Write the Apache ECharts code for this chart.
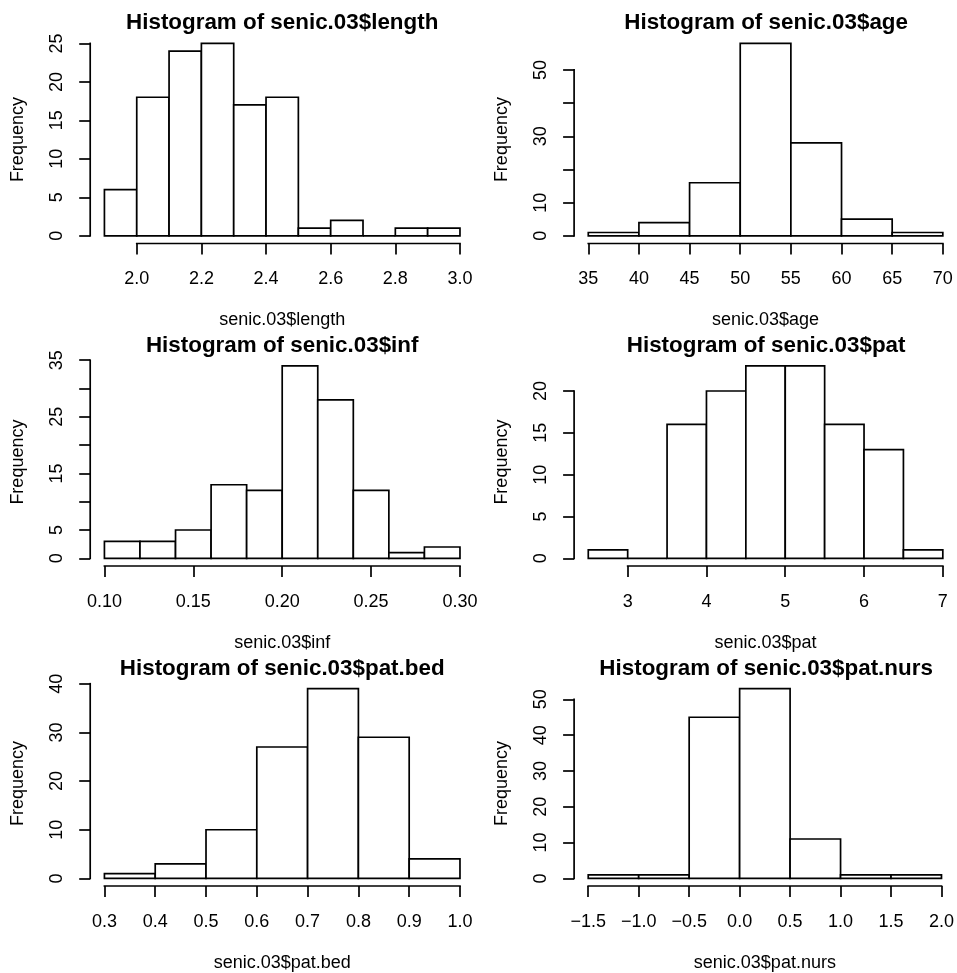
<!DOCTYPE html>
<html><head><meta charset="utf-8">
<script src="https://cdn.jsdelivr.net/npm/echarts@6/dist/echarts.min.js"></script>
<style>html,body{margin:0;padding:0;background:#fff}#c{width:957px;height:973px}</style>
</head><body><div id="c"></div>
<script>
// ---- data ----
const lengthBreaks = [1.9, 2.0, 2.1, 2.2, 2.3, 2.4, 2.5, 2.6, 2.7, 2.8, 2.9, 3.0];
const lengthCounts = [6, 18, 24, 25, 17, 18, 1, 2, 0, 1, 1];
const lengthXTicks = [2.0, 2.2, 2.4, 2.6, 2.8, 3.0];
const lengthXLabels = ['2.0', '2.2', '2.4', '2.6', '2.8', '3.0'];
const lengthYTicks = [0, 5, 10, 15, 20, 25];
const lengthYLabels = [0, 5, 10, 15, 20, 25];

const ageBreaks = [35, 40, 45, 50, 55, 60, 65, 70];
const ageCounts = [1, 4, 16, 58, 28, 5, 1];
const ageXTicks = [35, 40, 45, 50, 55, 60, 65, 70];
const ageXLabels = ['35', '40', '45', '50', '55', '60', '65', '70'];
const ageYTicks = [0, 10, 20, 30, 40, 50];
const ageYLabels = [0, 10, 30, 50];

const infBreaks = [0.10, 0.12, 0.14, 0.16, 0.18, 0.20, 0.22, 0.24, 0.26, 0.28, 0.30];
const infCounts = [3, 3, 5, 13, 12, 34, 28, 12, 1, 2];
const infXTicks = [0.10, 0.15, 0.20, 0.25, 0.30];
const infXLabels = ['0.10', '0.15', '0.20', '0.25', '0.30'];
const infYTicks = [0, 5, 10, 15, 20, 25, 30, 35];
const infYLabels = [0, 5, 15, 25, 35];

const patBreaks = [2.5, 3.0, 3.5, 4.0, 4.5, 5.0, 5.5, 6.0, 6.5, 7.0];
const patCounts = [1, 0, 16, 20, 23, 23, 16, 13, 1];
const patXTicks = [3, 4, 5, 6, 7];
const patXLabels = ['3', '4', '5', '6', '7'];
const patYTicks = [0, 5, 10, 15, 20];
const patYLabels = [0, 5, 10, 15, 20];

const bedBreaks = [0.3, 0.4, 0.5, 0.6, 0.7, 0.8, 0.9, 1.0];
const bedCounts = [1, 3, 10, 27, 39, 29, 4];
const bedXTicks = [0.3, 0.4, 0.5, 0.6, 0.7, 0.8, 0.9, 1.0];
const bedXLabels = ['0.3', '0.4', '0.5', '0.6', '0.7', '0.8', '0.9', '1.0'];
const bedYTicks = [0, 10, 20, 30, 40];
const bedYLabels = [0, 10, 20, 30, 40];

const nursBreaks = [-1.5, -1.0, -0.5, 0.0, 0.5, 1.0, 1.5, 2.0];
const nursCounts = [1, 1, 45, 53, 11, 1, 1];
const nursXTicks = [-1.5, -1.0, -0.5, 0.0, 0.5, 1.0, 1.5, 2.0];
const nursXLabels = ['\u22121.5', '\u22121.0', '\u22120.5', '0.0', '0.5', '1.0', '1.5', '2.0'];
const nursYTicks = [0, 10, 20, 30, 40, 50];
const nursYLabels = [0, 10, 20, 30, 40, 50];

const panels = [
  { v: 'senic.03$length', b: lengthBreaks, c: lengthCounts, xt: lengthXTicks, xl: lengthXLabels, yt: lengthYTicks, yl: lengthYLabels },
  { v: 'senic.03$age', b: ageBreaks, c: ageCounts, xt: ageXTicks, xl: ageXLabels, yt: ageYTicks, yl: ageYLabels },
  { v: 'senic.03$inf', b: infBreaks, c: infCounts, xt: infXTicks, xl: infXLabels, yt: infYTicks, yl: infYLabels },
  { v: 'senic.03$pat', b: patBreaks, c: patCounts, xt: patXTicks, xl: patXLabels, yt: patYTicks, yl: patYLabels },
  { v: 'senic.03$pat.bed', b: bedBreaks, c: bedCounts, xt: bedXTicks, xl: bedXLabels, yt: bedYTicks, yl: bedYLabels },
  { v: 'senic.03$pat.nurs', b: nursBreaks, c: nursCounts, xt: nursXTicks, xl: nursXLabels, yt: nursYTicks, yl: nursYLabels }
];

// ---- layout / style ----
const FONT = "'Liberation Sans', Arial, Helvetica, sans-serif";
const LW = 1.7;
const lefts = [90.2, 574.1];
const tops = [35.7, 358.2, 681.0];
const GW = 384, GH = 207.8;

const grids = [], xAxes = [], yAxes = [], series = [], titles = [];

panels.forEach((p, i) => {
  const col = i % 2, row = Math.floor(i / 2);
  const left = lefts[col], top = tops[row];
  grids.push({ left: left, top: top, width: GW, height: GH });

  const lo = p.b[0], hi = p.b[p.b.length - 1];
  const ext = (hi - lo) * 0.04;
  const ymax = Math.max.apply(null, p.c);
  const xMin = lo - ext, xMax = hi + ext;
  const yMin = -0.04 * ymax, yMax = 1.04 * ymax;

  titles.push({
    text: 'Histogram of ' + p.v,
    left: left + GW / 2, top: top - 23.5, textAlign: 'center', padding: 0,
    textStyle: { fontFamily: FONT, fontSize: 22.4, fontWeight: 'bold', color: '#000' }
  });

  const xl = p.xl;
  const xt = p.xt;
  xAxes.push({
    type: 'value', gridIndex: i, min: xMin, max: xMax,
    name: p.v, nameLocation: 'middle', nameGap: 68,
    nameTextStyle: { fontFamily: FONT, fontSize: 18, color: '#000' },
    axisLine: { show: false, onZero: false },
    axisTick: { show: true, customValues: xt, length: 11, inside: false, lineStyle: { color: '#000', width: LW } },
    axisLabel: {
      show: true, customValues: xt, margin: 27, fontFamily: FONT, fontSize: 18, color: '#000',
      formatter: function (val) {
        let k = 0, best = Infinity;
        xt.forEach((t, j) => { const d = Math.abs(t - val); if (d < best) { best = d; k = j; } });
        return xl[k];
      }
    },
    splitLine: { show: false }
  });
  yAxes.push({
    type: 'value', gridIndex: i, min: yMin, max: yMax,
    name: 'Frequency', nameLocation: 'middle', nameGap: 63,
    nameTextStyle: { fontFamily: FONT, fontSize: 18, color: '#000' },
    axisLine: { show: false, onZero: false },
    axisTick: { show: true, customValues: p.yt, length: 11, inside: false, lineStyle: { color: '#000', width: LW } },
    axisLabel: { show: true, customValues: p.yl, rotate: 90, margin: 24, fontFamily: FONT, fontSize: 18, color: '#000' },
    splitLine: { show: false }
  });

  const bins = p.c.map((cnt, j) => [p.b[j], p.b[j + 1], cnt]);
  series.push({
    type: 'custom', xAxisIndex: i, yAxisIndex: i, data: bins, silent: true, animation: false,
    renderItem: function (params, api) {
      const a = api.coord([api.value(0), 0]);
      const b = api.coord([api.value(1), api.value(2)]);
      return {
        type: 'rect',
        shape: { x: a[0], y: b[1], width: b[0] - a[0], height: a[1] - b[1] },
        style: { fill: '#fff', stroke: '#000', lineWidth: LW }
      };
    }
  });
  // R style axis lines running from first to last tick
  series.push({
    type: 'custom', xAxisIndex: i, yAxisIndex: i, silent: true, animation: false,
    data: [[xt[0], xt[xt.length - 1], p.yt[0], p.yt[p.yt.length - 1]]],
    renderItem: function (params, api) {
      const x0 = api.coord([api.value(0), yMin]);
      const x1 = api.coord([api.value(1), yMin]);
      const y0 = api.coord([xMin, api.value(2)]);
      const y1 = api.coord([xMin, api.value(3)]);
      return {
        type: 'group',
        children: [
          { type: 'line', shape: { x1: x0[0], y1: x0[1], x2: x1[0], y2: x1[1] }, style: { stroke: '#000', lineWidth: LW, lineCap: 'square' } },
          { type: 'line', shape: { x1: y0[0], y1: y0[1], x2: y1[0], y2: y1[1] }, style: { stroke: '#000', lineWidth: LW, lineCap: 'square' } }
        ]
      };
    }
  });
});

const chart = echarts.init(document.getElementById('c'), null, { renderer: 'canvas' });
chart.setOption({
  backgroundColor: '#fff',
  animation: false,
  title: titles,
  grid: grids,
  xAxis: xAxes,
  yAxis: yAxes,
  series: series
});
</script>
</body></html>
